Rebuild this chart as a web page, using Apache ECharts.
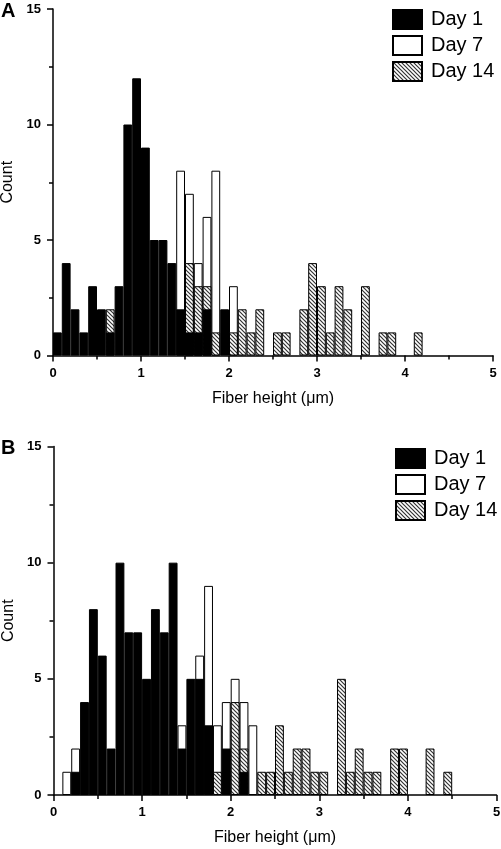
<!DOCTYPE html>
<html><head><meta charset="utf-8">
<script src="https://cdn.jsdelivr.net/npm/echarts@6/dist/echarts.min.js"></script>
<style>html,body{margin:0;padding:0;background:#fff}#c{width:501px;height:849px}</style>
</head><body><div id="c"></div>
<script>
// ---- data: counts per 0.1 µm bin, bins start at 0.0, 0.1, ... 4.9 ----
const binStarts = Array.from({length: 50}, (_, i) => (i / 10).toFixed(1));
const seriesNames = ['Day 1', 'Day 7', 'Day 14'];
const xTickLabels = ['0', '1', '2', '3', '4', '5'];
const yTickLabels = ['0', '5', '10', '15'];

// Panel A
const aDay1 = [1,4,2,1,3,2,1,3,10,12, 9,5,5,4,2,1,1,2,0,2, 0,0,0,0,0,0,0,0,0,0, 0,0,0,0,0,0,0,0,0,0, 0,0,0,0,0,0,0,0,0,0];
const aDay7 = [0,0,0,0,0,0,0,0,0,0, 0,0,0,0,8,7,4,6,8,0, 3,0,0,0,0,0,0,0,0,0, 0,0,0,0,0,0,0,0,0,0, 0,0,0,0,0,0,0,0,0,0];
const aDay14 = [0,0,0,0,0,0,2,0,0,0, 0,0,0,0,0,4,3,3,1,0, 1,2,1,2,0,1,1,0,2,4, 3,1,3,2,0,3,0,1,1,0, 0,1,0,0,0,0,0,0,0,0];

// Panel B
const bDay1 = [0,0,1,4,8,6,2,10,7,7, 5,8,7,10,2,5,5,3,0,2, 0,1,0,0,0,0,0,0,0,0, 0,0,0,0,0,0,0,0,0,0, 0,0,0,0,0,0,0,0,0,0];
const bDay7 = [0,1,2,0,0,0,0,0,0,0, 0,0,0,0,3,0,6,9,3,4, 5,4,3,0,0,0,0,0,0,0, 0,0,0,0,0,0,0,0,0,0, 0,0,0,0,0,0,0,0,0,0];
const bDay14 = [0,0,0,0,0,0,0,0,0,0, 0,0,0,0,0,0,0,0,1,0, 4,2,0,1,1,3,1,2,2,1, 1,0,5,1,2,1,1,0,2,2, 0,0,2,0,1,0,0,0,0,0];

// ---- styling ----
const FONT = '"Liberation Sans", Arial, sans-serif';
function makeHatch() {
  const c = document.createElement('canvas');
  c.width = 4; c.height = 4;
  const g = c.getContext('2d');
  g.fillStyle = '#fff'; g.fillRect(0, 0, 4, 4);
  g.strokeStyle = '#333'; g.lineWidth = 1.2;
  g.beginPath();
  g.moveTo(-1, -1); g.lineTo(5, 5);
  g.moveTo(3, -1); g.lineTo(5, 1);
  g.moveTo(-1, 3); g.lineTo(1, 5);
  g.stroke();
  return c;
}
const hatch = {image: makeHatch(), repeat: 'repeat'};
const fills = {'Day 1': '#000', 'Day 7': '#fff', 'Day 14': hatch};

const gz = v => v.map(x => x === 0 ? '-' : x);

function axesFor(gi) {
  const xs = [
    {type: 'category', gridIndex: gi, position: 'bottom', data: binStarts, show: false, boundaryGap: true},
    {type: 'value', gridIndex: gi, position: 'bottom', offset: 0, min: 0, max: 5, interval: 1,
     name: 'Fiber height (μm)', nameLocation: 'middle', nameGap: 35,
     nameTextStyle: {fontFamily: FONT, fontSize: 16, color: '#000'},
     axisLine: {show: true, onZero: false, lineStyle: {color: '#000', width: 1.5}},
     axisTick: {show: true, length: 6, lineStyle: {color: '#000', width: 1.5}},
     minorTick: {show: true, splitNumber: 2, length: 4, lineStyle: {color: '#000', width: 1.5}},
     splitLine: {show: false},
     axisLabel: {margin: 11, fontFamily: FONT, fontSize: 13, fontWeight: 'bold', color: '#000',
       formatter: v => xTickLabels[Math.round(v)]}}
  ];
  const y = {type: 'value', gridIndex: gi, position: 'left', min: 0, max: 15, interval: 5,
     name: 'Count', nameLocation: 'middle', nameGap: 33, nameRotate: 90,
     nameTextStyle: {fontFamily: FONT, fontSize: 16, color: '#000'},
     axisLine: {show: true, onZero: false, lineStyle: {color: '#000', width: 1.5}},
     axisTick: {show: true, length: 6, lineStyle: {color: '#000', width: 1.5}},
     minorTick: {show: true, splitNumber: 2, length: 4, lineStyle: {color: '#000', width: 1.5}},
     splitLine: {show: false},
     axisLabel: {margin: 12, fontFamily: FONT, fontSize: 13, fontWeight: 'bold', color: '#000',
       formatter: v => yTickLabels[Math.round(v / 5)]}};
  return {xs, y};
}
const A = axesFor(0), B = axesFor(1);

function barSeries(name, data, xi, yi) {
  return {name, type: 'bar', xAxisIndex: xi, yAxisIndex: yi, data: gz(data),
    barGap: '-100%', barCategoryGap: '0%',
    itemStyle: {color: fills[name], borderColor: '#000', borderWidth: 1},
    emphasis: {disabled: true}};
}

function legendAt(left, top) {
  return {orient: 'vertical', left, top, itemWidth: 29, itemHeight: 19, itemGap: 5,
    icon: 'rect', data: seriesNames, selectedMode: false,
    itemStyle: {borderColor: '#000', borderWidth: 2},
    textStyle: {fontFamily: FONT, fontSize: 20, color: '#000', padding: [0, 0, 0, 4]}};
}

const chart = echarts.init(document.getElementById('c'), null, {renderer: 'canvas'});
chart.setOption({
  animation: false,
  backgroundColor: '#fff',
  grid: [
    {left: 53, top: 9, width: 440, height: 346.5, containLabel: false, outerBoundsMode: 'none'},
    {left: 53.5, top: 446.5, width: 443, height: 348.5, containLabel: false, outerBoundsMode: 'none'}
  ],
  xAxis: [...A.xs, ...B.xs],
  yAxis: [A.y, B.y],
  legend: [legendAt(387, 4), legendAt(390, 443)],
  graphic: [
    {type: 'text', left: 1, top: 1, style: {text: 'A', fontFamily: FONT, fontSize: 20, fontWeight: 'bold', fill: '#000'}},
    {type: 'text', left: 1, top: 438, style: {text: 'B', fontFamily: FONT, fontSize: 20, fontWeight: 'bold', fill: '#000'}}
  ],
  series: [
    barSeries('Day 7', aDay7, 0, 0),
    barSeries('Day 14', aDay14, 0, 0),
    barSeries('Day 1', aDay1, 0, 0),
    barSeries('Day 7', bDay7, 2, 1),
    barSeries('Day 14', bDay14, 2, 1),
    barSeries('Day 1', bDay1, 2, 1)
  ]
});
</script></body></html>
